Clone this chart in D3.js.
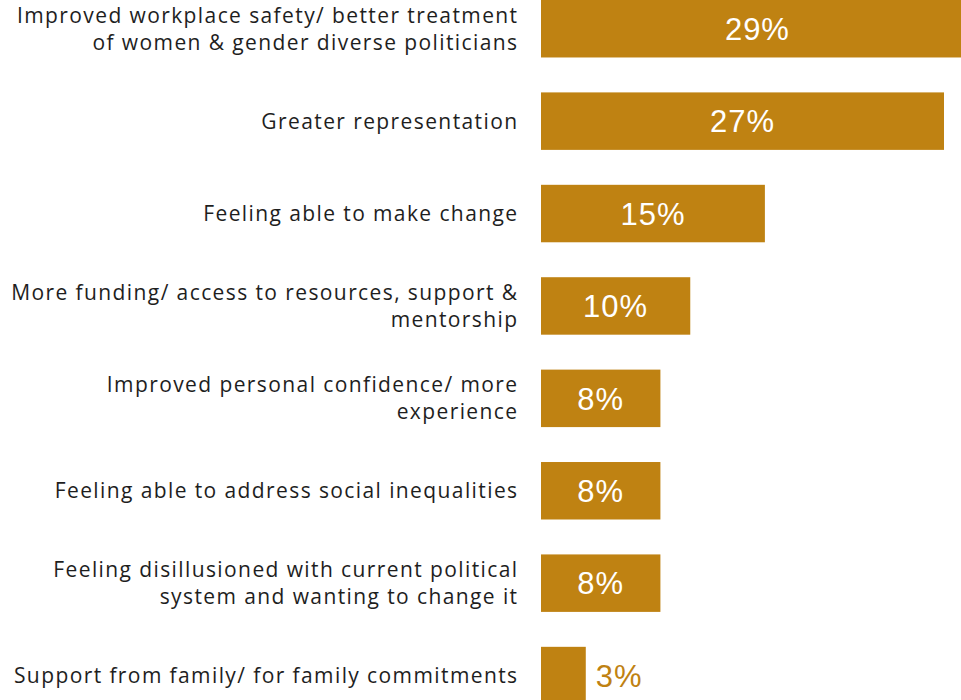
<!DOCTYPE html>
<html>
<head>
<meta charset="utf-8">
<script src="https://cdn.jsdelivr.net/npm/d3@7"></script>
<style>
  html, body { margin: 0; padding: 0; background: #fff; }
  svg { display: block; }
</style>
</head>
<body>
<svg id="chart" width="961" height="700"></svg>
<script>
// Reasons cited (each entry split into display lines)
const categories = [
  ["Improved workplace safety/ better treatment", "of women & gender diverse politicians"],
  ["Greater representation"],
  ["Feeling able to make change"],
  ["More funding/ access to resources, support &", "mentorship"],
  ["Improved personal confidence/ more", "experience"],
  ["Feeling able to address social inequalities"],
  ["Feeling disillusioned with current political", "system and wanting to change it"],
  ["Support from family/ for family commitments"]
];
const values = [29, 27, 15, 10, 8, 8, 8, 3];
const valueLabels = ["29%", "27%", "15%", "10%", "8%", "8%", "8%", "3%"];

const W = 961, H = 700;
const barColor = "#BF8212";
const svg = d3.select("#chart");

const y = d3.scaleBand()
  .domain(d3.range(categories.length))
  .range([0, 704.3])
  .paddingInner(0.378)
  .paddingOuter(0);

const x = d3.scaleLinear().domain([0, 27]).range([541, 944]);

const rows = svg.selectAll("g.row")
  .data(values.map((v, i) => ({ v, i, lines: categories[i], label: valueLabels[i] })))
  .enter().append("g").attr("class", "row");

rows.append("rect")
  .attr("x", x(0))
  .attr("y", d => y(d.i))
  .attr("width", d => x(d.v) - x(0))
  .attr("height", y.bandwidth())
  .attr("fill", barColor);

// Category labels, right-aligned left of the bars
rows.each(function(d) {
  const cy = y(d.i) + y.bandwidth() / 2;
  const n = d.lines.length;
  const lh = 27;
  const t = d3.select(this).append("text")
    .attr("text-anchor", "end")
    .attr("font-family", "'Open Sans', 'Liberation Sans', sans-serif")
    .attr("font-size", 21)
    .attr("letter-spacing", "1.4px")
    .attr("fill", "#1e1e1e");
  d.lines.forEach((ln, k) => {
    t.append("tspan")
      .attr("x", 518.5)
      .attr("y", cy + (k - (n - 1) / 2) * lh)
      .attr("dy", "0.36em")
      .text(ln);
  });
});

// Value labels: inside the bar when it is wide enough, else just past its end
rows.append("text")
  .attr("x", d => d.v >= 5 ? (x(0) + x(d.v)) / 2 : x(d.v) + 10)
  .attr("y", d => y(d.i) + y.bandwidth() / 2)
  .attr("dy", "0.36em")
  .attr("text-anchor", d => d.v >= 5 ? "middle" : "start")
  .attr("font-family", "'Liberation Sans', Arial, sans-serif")
  .attr("font-size", 31)
  .attr("letter-spacing", "1px")
  .attr("fill", d => d.v >= 5 ? "#ffffff" : barColor)
  .text(d => d.label);
</script>
</body>
</html>
